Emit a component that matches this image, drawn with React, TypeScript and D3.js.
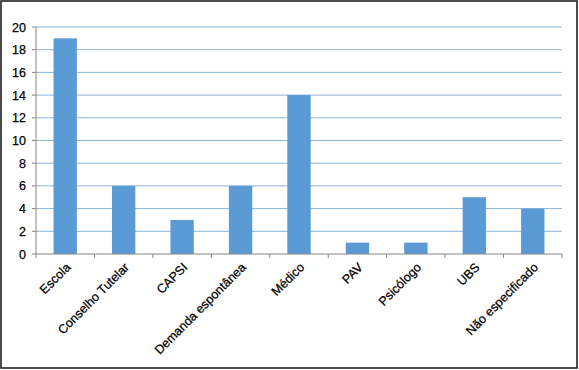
import React from "react";
import * as d3 from "d3";

const categories = [
  "Escola",
  "Conselho Tutelar",
  "CAPSI",
  "Demanda espontânea",
  "Médico",
  "PAV",
  "Psicólogo",
  "UBS",
  "Não especificado",
];
const values = [19, 6, 3, 6, 14, 1, 1, 5, 4];
const yTicks = [0, 2, 4, 6, 8, 10, 12, 14, 16, 18, 20];

const W = 579;
const H = 370;
const margin = { top: 27, right: 17, bottom: 116, left: 36 };

const App = () => {
  const x = d3
    .scaleBand<string>()
    .domain(categories)
    .range([margin.left, W - margin.right])
    .padding(0);
  const y = d3
    .scaleLinear()
    .domain([0, 20])
    .range([H - margin.bottom, margin.top]);

  const barW = x.bandwidth() * 0.4;
  const font = "'Liberation Sans', Arial, sans-serif";
  const y0 = y(0);

  return (
    <svg
      width={W}
      height={H}
      style={{ position: "absolute", left: 0, top: 0, background: "#fff" }}
    >
      <rect x={1} y={1} width={W - 3} height={H - 3} fill="#fff" stroke="#111" strokeWidth={1.5} />
      {/* gridlines */}
      {yTicks
        .filter((t) => t > 0)
        .map((t) => (
          <line
            key={"g" + t}
            x1={margin.left}
            x2={W - margin.right}
            y1={y(t)}
            y2={y(t)}
            stroke="#8db3d9"
            strokeWidth={1}
          />
        ))}
      {/* bars */}
      {categories.map((c, i) => (
        <rect
          key={c}
          x={(x(c) as number) + (x.bandwidth() - barW) / 2}
          y={y(values[i])}
          width={barW}
          height={y0 - y(values[i])}
          fill="#5b9bd5"
        />
      ))}
      {/* y axis */}
      <line x1={margin.left} x2={margin.left} y1={margin.top} y2={y0} stroke="#868686" />
      {yTicks.map((t) => (
        <g key={"y" + t}>
          <line x1={margin.left - 4} x2={margin.left} y1={y(t)} y2={y(t)} stroke="#868686" />
          <text
            x={margin.left - 10}
            y={y(t)}
            dy="0.36em"
            textAnchor="end"
            fontSize={12.5}
            fontFamily={font}
            fill="#000"
            stroke="#000"
            strokeWidth={0.25}
          >
            {t}
          </text>
        </g>
      ))}
      {/* x axis */}
      <line x1={margin.left} x2={W - margin.right} y1={y0} y2={y0} stroke="#868686" />
      {categories.map((c) => (
        <line
          key={"t" + c}
          x1={x(c) as number}
          x2={x(c) as number}
          y1={y0}
          y2={y0 + 4}
          stroke="#868686"
        />
      ))}
      <line
        x1={W - margin.right}
        x2={W - margin.right}
        y1={y0}
        y2={y0 + 4}
        stroke="#868686"
      />
      {categories.map((c) => {
        const cx = (x(c) as number) + x.bandwidth() / 2 + 3;
        const cy = y0 + 11;
        return (
          <text
            key={"l" + c}
            transform={`translate(${cx},${cy}) rotate(-45)`}
            textAnchor="end"
            dy="0.35em"
            fontSize={12.5}
            fontFamily={font}
            fill="#000"
            stroke="#000"
            strokeWidth={0.25}
          >
            {c}
          </text>
        );
      })}
    </svg>
  );
};

export default App;
